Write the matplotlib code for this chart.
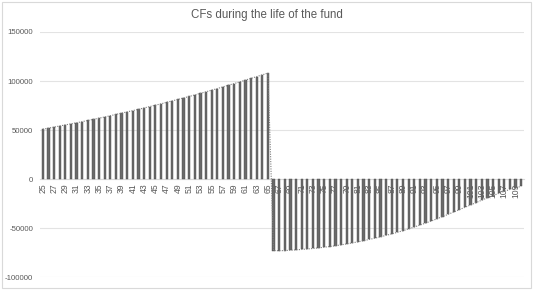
import matplotlib
matplotlib.use("Agg")
import matplotlib.pyplot as plt
from matplotlib.patches import Rectangle

ages = list(range(25, 111))

accumulation = [
    50800, 51900, 53000, 54100, 55200, 56300, 57400, 58500, 59700, 60900,
    62100, 63300, 64600, 65900, 67200, 68500, 69800, 71100, 72500, 73900,
    75300, 76700, 78200, 79700, 81200, 82700, 84200, 85800, 87400, 89000,
    90600, 92300, 94000, 95700, 97400, 99100, 100900, 102700, 104500, 106300,
    108100,
]
decumulation = [
    -73000, -73200, -73000, -72700, -72300, -71900, -71400, -70900, -70300, -69600,
    -68900, -68100, -67200, -66200, -65200, -64100, -62900, -61700, -60400, -59000,
    -57500, -56000, -54400, -52700, -50900, -49000, -47000, -45000, -42900, -40700,
    -38400, -36100, -33700, -31300, -28900, -26500, -24000, -21600, -19200, -16900,
    -14700, -12600, -10700, -9000, -7500,
]
cash_flows = accumulation + decumulation

title = "CFs during the life of the fund"
y_ticks = [-100000, -50000, 0, 50000, 100000, 150000]

W, H = 534, 290
fig = plt.figure(figsize=(W / 100, H / 100), dpi=100)
fig.patch.set_facecolor("white")
fig.patches.append(Rectangle((0.004, 0.007), 0.99, 0.986, transform=fig.transFigure,
                             fill=False, edgecolor="#d9d9d9", linewidth=0.8))

ax = fig.add_axes([40 / W, 1 - 277 / H, (524 - 40) / W, (277 - 32) / H])
for s in ["top", "right", "left"]:
    ax.spines[s].set_visible(False)
ax.spines["bottom"].set_position(("data", 0))
ax.spines["bottom"].set_color("#d9d9d9")
ax.spines["bottom"].set_linewidth(0.8)

x = list(range(len(ages)))
ax.bar(x, cash_flows, width=0.4, color="#6a6a6a", edgecolor="#4a4a4a",
       linewidth=0.3, zorder=3)
ax.plot(x, cash_flows, linestyle=(0, (1, 1.2)), color="#7f7f7f", linewidth=0.8, zorder=4)

ax.set_xlim(-0.5, len(ages) - 0.5)
ax.set_ylim(-100000, 150000)
ax.set_yticks(y_ticks)
ax.set_yticklabels([str(v) for v in y_ticks], fontsize=5.6, color="#595959",
                   family="Liberation Sans")
ax.grid(axis="y", color="#e3e3e3", linewidth=0.8, zorder=0)
ax.set_axisbelow(True)

ax.set_xticks(x[::2])
ax.set_xticklabels([str(a) for a in ages[::2]], fontsize=6.2,
                   color="#595959", family="Liberation Sans")
ax.tick_params(axis="x", length=0, pad=3, labelrotation=90)
ax.tick_params(axis="y", length=0, pad=5)

fig.text(0.5, 1 - 15 / H, title, ha="center", va="center", fontsize=8.3,
         color="#595959", family="Liberation Sans")

fig.savefig("out.png", dpi=100, facecolor="white")
